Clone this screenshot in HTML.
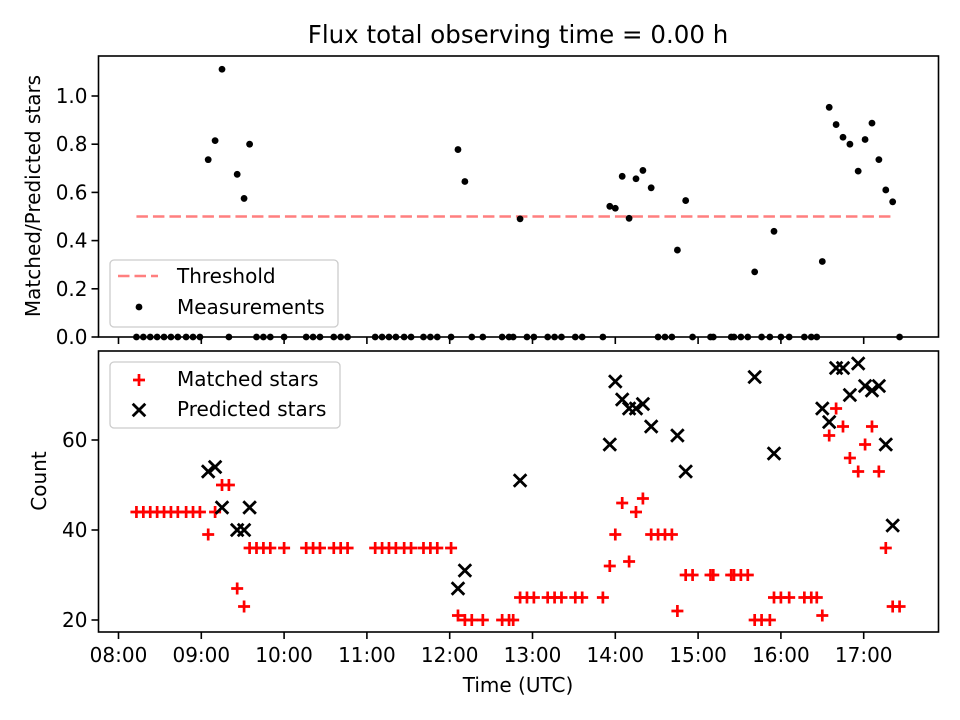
<!DOCTYPE html>
<html><head><meta charset="utf-8"><style>
html,body{margin:0;padding:0;background:#fff;}
svg{display:block;font-family:"DejaVu Sans","Liberation Sans",sans-serif;}
</style></head><body>
<svg id="fig" width="960" height="720" viewBox="0 0 960 720" xmlns="http://www.w3.org/2000/svg">
<rect width="960" height="720" fill="#fff"/>
<text x="518" y="43" font-size="24.5" text-anchor="middle" fill="#000">Flux total observing time = 0.00 h</text>
<text transform="translate(40,196) rotate(-90)" font-size="20" text-anchor="middle" fill="#000">Matched/Predicted stars</text>
<text transform="translate(46,481) rotate(-90)" font-size="20" text-anchor="middle" fill="#000">Count</text>
<text x="518" y="692" font-size="20" text-anchor="middle" fill="#000">Time (UTC)</text>
<g id="top"></g>
<g id="bot"></g>
</svg>
<script>
// minutes after 08:00 UTC
const times = [13,18,23,28,33,38,43,49,54,59,65,70,75,80,86,91,95,100,105,110,120,136,141,146,156,161,166,186,191,196,201,207,212,221,226,231,241,246,251,256,264,278,283,286,291,296,301,311,316,321,331,336,351,356,360,365,370,375,380,386,391,396,401,405,411,416,429,431,444,446,451,456,461,466,472,475,480,486,497,502,506,510,515,520,525,530,536,541,546,551,556,561,566];
const matched = [44,44,44,44,44,44,44,44,44,44,39,44,50,50,27,23,36,36,36,36,36,36,36,36,36,36,36,36,36,36,36,36,36,36,36,36,36,21,20,20,20,20,20,20,25,25,25,25,25,25,25,25,25,32,39,46,33,44,47,39,39,39,39,22,30,30,30,30,30,30,30,30,20,20,20,25,25,25,25,25,25,21,61,67,63,56,53,59,63,53,36,23,23];
const predicted = [null,null,null,null,null,null,null,null,null,null,53,54,45,null,40,40,45,null,null,null,null,null,null,null,null,null,null,null,null,null,null,null,null,null,null,null,null,27,31,null,null,null,null,null,51,null,null,null,null,null,null,null,null,59,73,69,67,67,68,63,null,null,null,61,53,null,null,null,null,null,null,null,74,null,null,57,null,null,null,null,null,67,64,76,76,70,77,72,71,72,59,41,null];
const xTickLabels = ["08:00","09:00","10:00","11:00","12:00","13:00","14:00","15:00","16:00","17:00"];
const topYTicks = [0.0,0.2,0.4,0.6,0.8,1.0];
const botYTicks = [20,40,60];
const threshold = 0.5;

const NS="http://www.w3.org/2000/svg";
const L=98.5,R=938.5;
const FS=20;
const xS=m=>118.5+m*82.8/60;
const yT=v=>337-v*241;
const yB=v=>620-(v-20)*4.5;
function mk(parent,tag,attrs){const e=document.createElementNS(NS,tag);for(const k in attrs)e.setAttribute(k,attrs[k]);parent.appendChild(e);return e;}

function axes(g,top,bottom,yticks,yfun,fmt,labels,prefix){
  yticks.forEach(v=>{
    const y=yfun(v);
    const t=mk(g,'line',{x1:L-7,x2:L,y1:y,y2:y,stroke:'#000','stroke-width':1.6});
    
    
    const tx=mk(g,'text',{x:L-11,y:y+7,'font-size':FS,'text-anchor':'end',fill:'#000'});
    tx.textContent=fmt(v);
    
    
  });
  xTickLabels.forEach((lab,i)=>{
    const x=xS(i*60);
    const t=mk(g,'line',{x1:x,x2:x,y1:bottom,y2:bottom+7,stroke:'#000','stroke-width':1.6});
    
    
    if(labels){
      const tx=mk(g,'text',{x:x,y:bottom+30,'font-size':FS,'text-anchor':'middle',fill:'#000'});
      tx.textContent=lab;
      
      
    }
  });
}
function frame(g,top,bottom,prefix){
  const r=mk(g,'rect',{x:L,y:top,width:R-L,height:bottom-top,fill:'none',stroke:'#000','stroke-width':1.6});
  
  
}
function plus(g,x,y,name){
  const p=mk(g,'path',{d:`M${x-6},${y}H${x+6}M${x},${y-6}V${y+6}`,stroke:'#f00','stroke-width':2.7,fill:'none'});
  
  
}
function cross(g,x,y,name){
  const p=mk(g,'path',{d:`M${x-6.3},${y-6.3}L${x+6.3},${y+6.3}M${x-6.3},${y+6.3}L${x+6.3},${y-6.3}`,stroke:'#000','stroke-width':2.8,fill:'none'});
  
  
}

// top panel
const gt=document.getElementById('top');
axes(gt,56,337,topYTicks,yT,v=>v.toFixed(1),false,'top');
const th=mk(gt,'line',{x1:xS(times[0]),x2:xS(times[times.length-2]),y1:yT(threshold),y2:yT(threshold),stroke:'#ff7f7f','stroke-width':2.4,'stroke-dasharray':'11.5,5'});


times.forEach((t,i)=>{
  const r=predicted[i]?matched[i]/predicted[i]:0;
  const c=mk(gt,'circle',{cx:xS(t),cy:yT(r),r:3.4,fill:'#000'});
  
  
});
frame(gt,56,337,'top');
const lg1=mk(gt,'g',{});


mk(lg1,'rect',{x:110,y:260,width:228,height:67,rx:4,fill:'#fff','fill-opacity':0.8,stroke:'#ccc','stroke-width':1.3});
mk(lg1,'line',{x1:118,x2:158,y1:276,y2:276,stroke:'#ff7f7f','stroke-width':2.4,'stroke-dasharray':'11.5,5'});
const l1=mk(lg1,'text',{x:177,y:283,'font-size':FS,fill:'#000'});l1.textContent='Threshold';


mk(lg1,'circle',{cx:139,cy:307,r:3.4,fill:'#000'});
const l2=mk(lg1,'text',{x:177,y:314,'font-size':FS,fill:'#000'});l2.textContent='Measurements';



// bottom panel
const gb=document.getElementById('bot');
axes(gb,351,632,botYTicks,yB,v=>String(v),true,'bottom');
times.forEach((t,i)=>{ plus(gb,xS(t),yB(matched[i]),'matched-star-marker'); });
times.forEach((t,i)=>{ if(predicted[i]!=null) cross(gb,xS(t),yB(predicted[i]),'predicted-star-marker'); });
frame(gb,351,632,'bottom');
const lg2=mk(gb,'g',{});


mk(lg2,'rect',{x:110,y:362,width:230,height:66,rx:4,fill:'#fff','fill-opacity':0.8,stroke:'#ccc','stroke-width':1.3});
plus(lg2,139,380,'legend-matched-marker');
const l3=mk(lg2,'text',{x:177,y:386,'font-size':FS,fill:'#000'});l3.textContent='Matched stars';


cross(lg2,139,410,'legend-predicted-marker');
const l4=mk(lg2,'text',{x:177,y:416,'font-size':FS,fill:'#000'});l4.textContent='Predicted stars';


</script>
</body></html>
